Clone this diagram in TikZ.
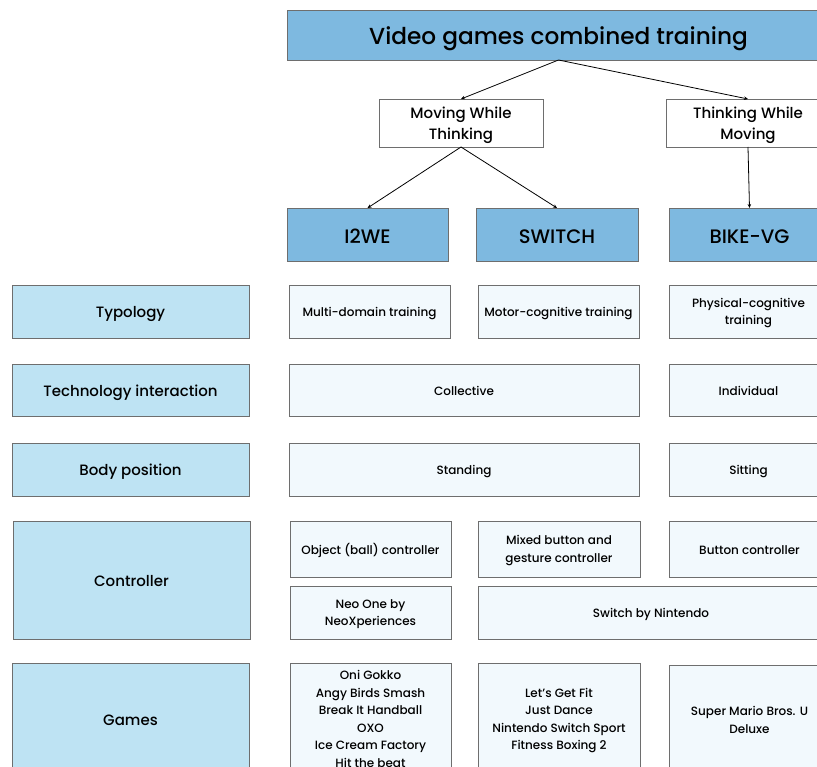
\documentclass[tikz,border=0pt]{standalone}
\usepackage{fontspec}
\setmainfont{Poppins}[UprightFont={* Medium}]
\usetikzlibrary{arrows.meta}
\definecolor{hdrblue}{HTML}{7EB9E0}
\definecolor{lblblue}{HTML}{BEE3F3}
\definecolor{cellblue}{HTML}{F2F9FD}
\definecolor{edge}{HTML}{6E6E6E}
\tikzset{
  base/.style={draw=edge, line width=0.8pt, inner sep=0pt, outer sep=0pt, align=center, text=black},
  hdr/.style={base, fill=hdrblue},
  top/.style={hdr, font=\fontsize{23.2}{27}\selectfont, text height=19.5pt, text depth=0pt},
  proj/.style={hdr, font=\fontsize{19.5}{22}\selectfont, text height=17.6pt, text depth=0pt},
  mid/.style={base, fill=white, font=\fontsize{15}{21}\selectfont, text depth=0pt},
  lbl/.style={base, fill=lblblue, font=\fontsize{15}{18}\selectfont, text height=12.5pt, text depth=0pt},
  cellm/.style={base, fill=cellblue, font=\fontsize{12}{17.5}\selectfont, text depth=0pt},
  cell/.style={cellm, text height=10.4pt},
  arr/.style={draw=black, line width=0.8pt, -{Stealth[length=4pt,width=3.5pt]}}
}
\begin{document}
\begin{tikzpicture}[x=1pt,y=-1pt]
\useasboundingbox (0,0) rectangle (817,767);
\clip (0,0) rectangle (817,767);
% top levels
\node[top, minimum width=543pt, minimum height=50pt] (title) at (558.5,35) {Video games combined training};
\node[mid, minimum width=164pt, minimum height=48pt] (mwt) at (461,123) {Moving While\\Thinking};
\node[mid, minimum width=164pt, minimum height=48pt] (twm) at (748,123) {Thinking While\\Moving};
\node[proj, minimum width=161pt, minimum height=53pt] (i2we) at (367.5,234.5) {I2WE};
\node[proj, minimum width=162pt, minimum height=53pt] (switch) at (557,234.5) {SWITCH};
\node[proj, minimum width=161pt, minimum height=53pt] (bike) at (749.5,234.5) {BIKE-VG};
% arrows
\draw[arr] (title.south) -- (mwt.north);
\draw[arr] (title.south) -- (twm.north);
\draw[arr] (mwt.south) -- (i2we.north);
\draw[arr] (mwt.south) -- (switch.north);
\draw[arr] (twm.south) -- (bike.north);
% row labels
\node[lbl, minimum width=237pt, minimum height=53pt] (typ) at (130.5,311.5) {Typology};
\node[lbl, minimum width=237pt, minimum height=52pt] (tech) at (130.5,390) {Technology interaction};
\node[lbl, minimum width=237pt, minimum height=53pt] (body) at (130.5,469.5) {Body position};
\node[lbl, minimum width=237pt, minimum height=118pt] (ctrl) at (131.5,580) {Controller};
\node[lbl, minimum width=237pt, minimum height=112pt] (games) at (130.5,719) {Games};
% typology
\node[cell, minimum width=161pt, minimum height=53pt] (multi) at (369.5,311.5) {Multi-domain training};
\node[cell, minimum width=161pt, minimum height=53pt] (motor) at (558.5,311.5) {Motor-cognitive training};
\node[cellm, minimum width=159pt, minimum height=53pt] (phys) at (748.5,311.5) {Physical-cognitive\\training};
% technology interaction
\node[cell, minimum width=350pt, minimum height=52pt] (coll) at (464,390) {Collective};
\node[cell, minimum width=159pt, minimum height=52pt] (indiv) at (748.5,390) {Individual};
% body position
\node[cell, minimum width=350pt, minimum height=53pt] (stand) at (464,469.5) {Standing};
\node[cell, minimum width=159pt, minimum height=53pt] (sit) at (748.5,469.5) {Sitting};
% controller
\node[cell, minimum width=161pt, minimum height=56pt] (obj) at (370.5,549) {Object (ball) controller};
\node[cellm, minimum width=162pt, minimum height=56pt] (mixed) at (559,549) {Mixed button and\\gesture controller};
\node[cell, minimum width=161pt, minimum height=56pt] (button) at (749.5,549) {Button controller};
\node[cellm, minimum width=161pt, minimum height=53pt] (neo) at (370.5,612.5) {Neo One by\\NeoXperiences};
\node[cell, minimum width=346pt, minimum height=53pt] (swn) at (651,612.5) {Switch by Nintendo};
% games
\node[cellm, minimum width=161pt, minimum height=112pt] (oni) at (370.5,719) {Oni Gokko\\Angy Birds Smash\\Break It Handball\\OXO\\Ice Cream Factory\\Hit the beat};
\node[cellm, minimum width=162pt, minimum height=112pt] (lets) at (559,719) {Let’s Get Fit\\Just Dance\\Nintendo Switch Sport\\Fitness Boxing 2};
\node[cellm, minimum width=161pt, minimum height=110pt] (mario) at (749.5,720) {Super Mario Bros. U\\Deluxe};
\end{tikzpicture}
\end{document}
